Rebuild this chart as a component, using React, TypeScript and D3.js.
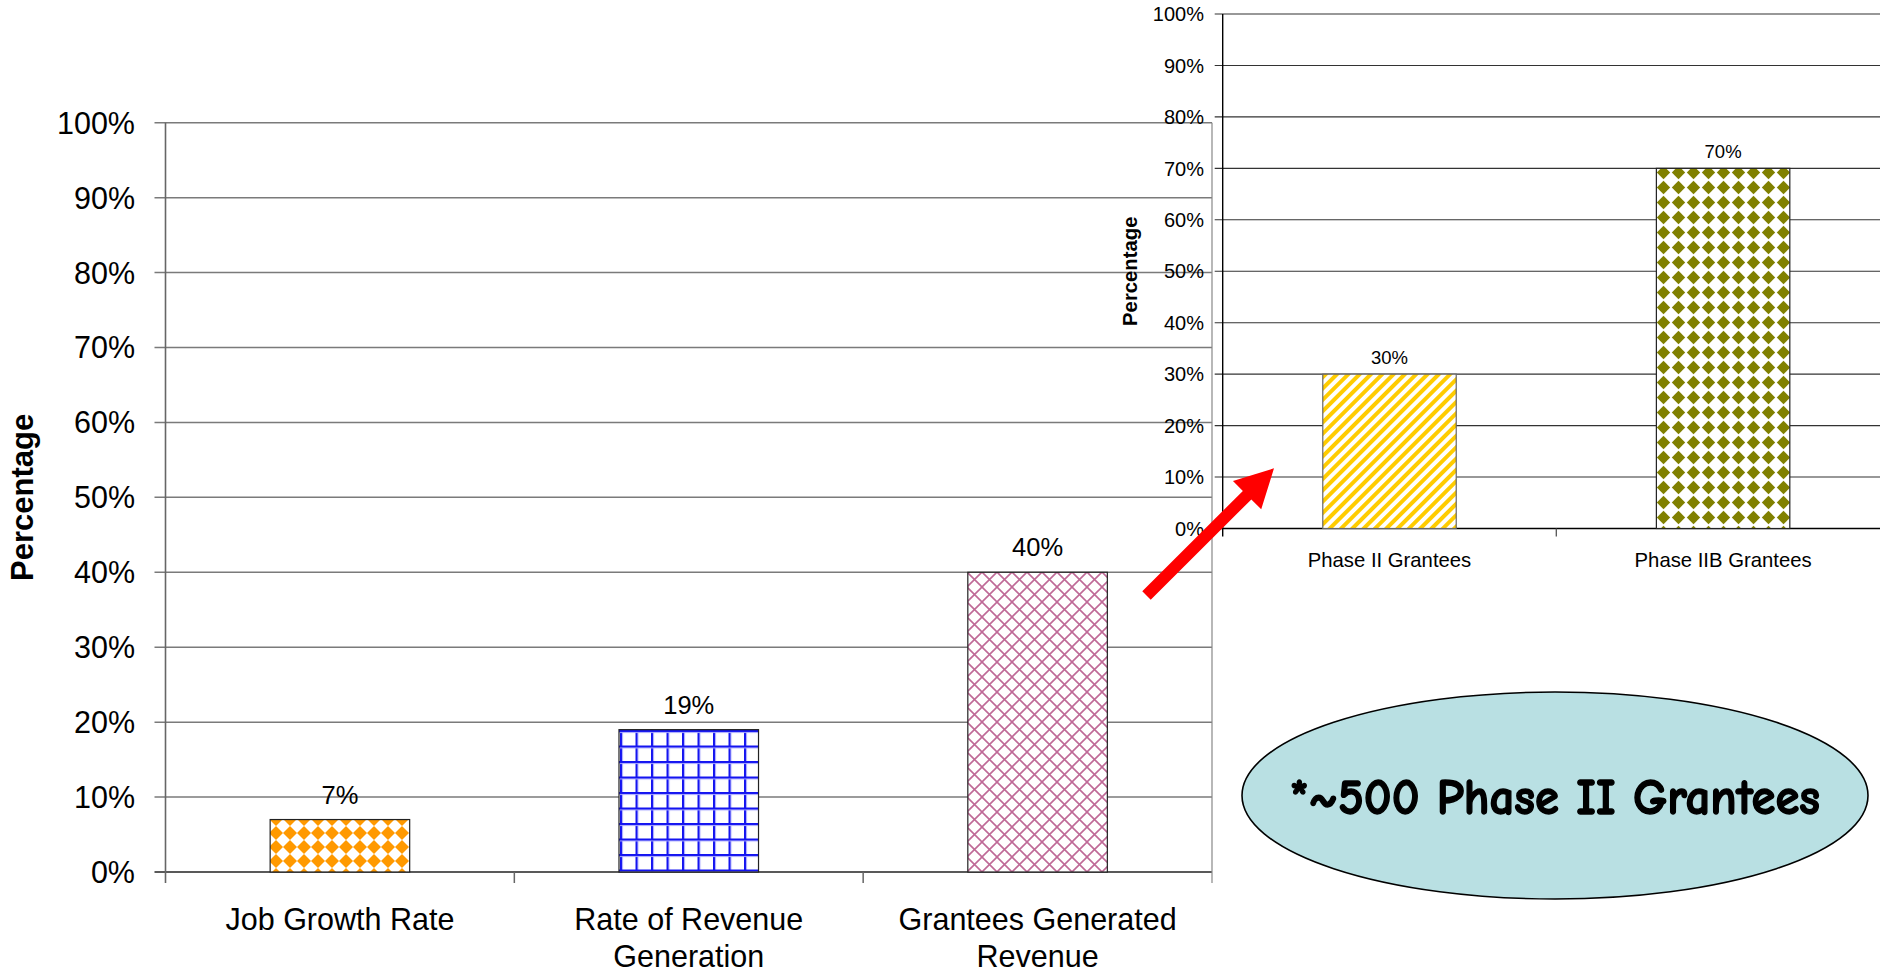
import React from "react";
import * as d3 from "d3";

// ---------- data ----------
const mainCategories: string[][] = [
  ["Job Growth Rate"],
  ["Rate of Revenue", "Generation"],
  ["Grantees Generated", "Revenue"],
];
const mainValues = [0.07, 0.19, 0.4];
const mainValueLabels = ["7%", "19%", "40%"];
const mainPatterns = ["pOrange", "pBlueGrid", "pPinkCross"];

const insetCategories = ["Phase II Grantees", "Phase IIB Grantees"];
const insetValues = [0.3, 0.7];
const insetValueLabels = ["30%", "70%"];
const insetPatterns = ["pYellowStripe", "pOliveDiamond"];

const yTickValues = [0, 0.1, 0.2, 0.3, 0.4, 0.5, 0.6, 0.7, 0.8, 0.9, 1.0];
const yAxisTitle = "Percentage";
const calloutText = "*~500 Phase II Grantees";

const FONT = "'Liberation Sans', Arial, Helvetica, sans-serif";
const pct = d3.format(".0%");

export default function App() {
  // main chart scales
  const mLeft = 165.5;
  const mRight = 1212;
  const mTop = 122.7;
  const mBottom = 872;
  const mx = d3
    .scaleBand<number>()
    .domain(mainValues.map((_, i) => i))
    .range([mLeft, mRight])
    .paddingInner(0.6)
    .paddingOuter(0.3);
  const my = d3.scaleLinear().domain([0, 1]).range([mBottom, mTop]);
  const mStep = mx.step();

  // inset scales
  const iLeft = 1222.7;
  const iStep = 333.6;
  const iTop = 14;
  const iBottom = 528.5;
  const ix = d3
    .scaleBand<number>()
    .domain(insetValues.map((_, i) => i))
    .range([iLeft, iLeft + iStep * insetValues.length])
    .paddingInner(0.6)
    .paddingOuter(0.3);
  const iy = d3.scaleLinear().domain([0, 1]).range([iBottom, iTop]);

  // arrow
  const T = [1146.5, 595.5];
  const P = [1274, 468.3];
  const dx = P[0] - T[0];
  const dy = P[1] - T[1];
  const len = Math.hypot(dx, dy);
  const u = [dx / len, dy / len];
  const n = [-u[1], u[0]];
  const headLen = 38;
  const headHalf = 20;
  const shaftHalf = 6;
  const B = [P[0] - u[0] * headLen, P[1] - u[1] * headLen];
  const pt = (base: number[], k: number) => `${base[0] + n[0] * k},${base[1] + n[1] * k}`;
  const arrowPts = [
    pt(T, shaftHalf),
    pt(B, shaftHalf),
    pt(B, headHalf),
    `${P[0]},${P[1]}`,
    pt(B, -headHalf),
    pt(B, -shaftHalf),
    pt(T, -shaftHalf),
  ].join(" ");

  return (
    <svg
      width={1880}
      height={975}
      style={{ position: "absolute", left: 0, top: 0, background: "#fff" }}
      fontFamily={FONT}
    >
      <defs>
        <pattern id="pOrange" width={14} height={14} patternUnits="userSpaceOnUse" x={269} y={0}>
          <rect width={14} height={14} fill="#fff" />
          <path d="M7 0 L14 7 L7 14 L0 7 Z" fill="#FF9900" />
        </pattern>
        <pattern id="pBlueGrid" width={15.5} height={15.5} patternUnits="userSpaceOnUse" x={620} y={730}>
          <rect width={15.5} height={15.5} fill="#fff" />
          <rect x={0} y={0} width={2} height={15.5} fill="#1414f0" />
          <rect x={2} y={0} width={1} height={15.5} fill="#a8a8ff" />
          <rect x={0} y={0} width={15.5} height={2} fill="#1414f0" />
          <rect x={0} y={2} width={15.5} height={1} fill="#a8a8ff" />
        </pattern>
        <pattern id="pPinkCross" width={15} height={15} patternUnits="userSpaceOnUse" x={967} y={572}>
          <rect width={15} height={15} fill="#fff" />
          <path d="M-1 -1 L16 16 M16 -1 L-1 16" stroke="#bf6a97" strokeWidth={1.6} />
        </pattern>
        <pattern
          id="pYellowStripe"
          width={8}
          height={8}
          patternUnits="userSpaceOnUse"
          patternTransform="rotate(45)"
        >
          <rect width={8} height={8} fill="#fff" />
          <rect x={0} y={0} width={4} height={8} fill="#FFCC00" />
        </pattern>
        <pattern id="pOliveDiamond" width={15} height={15} patternUnits="userSpaceOnUse" x={1656} y={0}>
          <rect width={15} height={15} fill="#fff" />
          <path d="M7.5 0.8 L14.2 7.5 L7.5 14.2 L0.8 7.5 Z" fill="#808000" />
        </pattern>
      </defs>

      {/* ================= MAIN CHART ================= */}
      <g>
        {yTickValues.map((t) => (
          <line
            key={"mg" + t}
            x1={mLeft - 11}
            x2={mRight}
            y1={my(t)}
            y2={my(t)}
            stroke={t === 0 ? "#222" : "#7a7a7a"}
            strokeWidth={1.5}
          />
        ))}
        <line x1={mLeft} x2={mLeft} y1={mTop} y2={mBottom + 11} stroke="#666" strokeWidth={1.6} />
        <line x1={mRight} x2={mRight} y1={mTop} y2={mBottom + 11} stroke="#888" strokeWidth={1.2} />
        {mainValues.map((_, i) =>
          i === 0 ? null : (
            <line
              key={"mt" + i}
              x1={mLeft + i * mStep}
              x2={mLeft + i * mStep}
              y1={mBottom}
              y2={mBottom + 11}
              stroke="#666"
              strokeWidth={1.5}
            />
          )
        )}
        {yTickValues.map((t) => (
          <text
            key={"ml" + t}
            x={135}
            y={my(t)}
            dy="0.36em"
            textAnchor="end"
            fontSize={30.5}
            fill="#000"
          >
            {pct(t)}
          </text>
        ))}
        {mainValues.map((v, i) => (
          <rect
            key={"mb" + i}
            x={mx(i)!}
            y={my(v)}
            width={mx.bandwidth()}
            height={my(0) - my(v)}
            fill={`url(#${mainPatterns[i]})`}
            stroke="#222"
            strokeWidth={1.2}
          />
        ))}
        {mainValues.map((v, i) => (
          <text
            key={"mv" + i}
            x={mx(i)! + mx.bandwidth() / 2}
            y={my(v) - 16}
            textAnchor="middle"
            fontSize={25.5}
            fill="#000"
          >
            {mainValueLabels[i]}
          </text>
        ))}
        {mainCategories.map((lines, i) => (
          <text
            key={"mc" + i}
            x={mx(i)! + mx.bandwidth() / 2}
            y={930}
            textAnchor="middle"
            fontSize={30.5}
            fill="#000"
          >
            {lines.map((ln, j) => (
              <tspan key={j} x={mx(i)! + mx.bandwidth() / 2} dy={j === 0 ? 0 : 37}>
                {ln}
              </tspan>
            ))}
          </text>
        ))}
        <text
          transform={`translate(22,${(mTop + mBottom) / 2}) rotate(-90)`}
          textAnchor="middle"
          dy="0.36em"
          fontSize={31}
          fontWeight="bold"
          fill="#000"
        >
          {yAxisTitle}
        </text>
      </g>

      {/* ================= INSET CHART ================= */}
      <g>
        {yTickValues.map((t) => (
          <line
            key={"ig" + t}
            x1={iLeft - 8}
            x2={1880}
            y1={iy(t)}
            y2={iy(t)}
            stroke={t === 0 ? "#000" : "#333"}
            strokeWidth={t === 0 ? 1.6 : 1.1}
          />
        ))}
        <line x1={iLeft} x2={iLeft} y1={iTop} y2={iBottom + 8} stroke="#000" strokeWidth={1.4} />
        {insetValues.map((_, i) =>
          i === 0 ? null : (
            <line
              key={"it" + i}
              x1={iLeft + i * iStep}
              x2={iLeft + i * iStep}
              y1={iBottom}
              y2={iBottom + 8}
              stroke="#555"
              strokeWidth={1.3}
            />
          )
        )}
        {yTickValues.map((t) => (
          <text
            key={"il" + t}
            x={1204}
            y={iy(t)}
            dy="0.36em"
            textAnchor="end"
            fontSize={20}
            fill="#000"
          >
            {pct(t)}
          </text>
        ))}
        {insetValues.map((v, i) => (
          <rect
            key={"ib" + i}
            x={ix(i)!}
            y={iy(v)}
            width={ix.bandwidth()}
            height={iy(0) - iy(v)}
            fill={`url(#${insetPatterns[i]})`}
            stroke={i === 0 ? "#666" : "#222"}
            strokeWidth={1.2}
          />
        ))}
        {insetValues.map((v, i) => (
          <text
            key={"iv" + i}
            x={ix(i)! + ix.bandwidth() / 2}
            y={iy(v) - 10}
            textAnchor="middle"
            fontSize={18.5}
            fill="#000"
          >
            {insetValueLabels[i]}
          </text>
        ))}
        {insetCategories.map((c, i) => (
          <text
            key={"ic" + i}
            x={ix(i)! + ix.bandwidth() / 2}
            y={567}
            textAnchor="middle"
            fontSize={20.3}
            fill="#000"
          >
            {c}
          </text>
        ))}
        <text
          transform={`translate(1130,${(iTop + iBottom) / 2}) rotate(-90)`}
          textAnchor="middle"
          dy="0.36em"
          fontSize={20.3}
          fontWeight="bold"
          fill="#000"
        >
          {yAxisTitle}
        </text>
      </g>

      {/* ================= ARROW ================= */}
      <polygon points={arrowPts} fill="#FF0000" />

      {/* ================= CALLOUT ================= */}
      <ellipse cx={1555} cy={795.5} rx={313} ry={103.5} fill="#B9E0E3" stroke="#000" strokeWidth={1.6} />
      <text
        x={1555}
        y={814}
        textAnchor="middle"
        fontSize={50}
        fontWeight="bold"
        fontFamily="'Comic Sans MS', 'Comic Neue', Lato, 'DejaVu Sans', sans-serif"
        textLength={530}
        lengthAdjust="spacingAndGlyphs"
        fill="#000"
        stroke="#000"
        strokeWidth={1.4}
      >
        {calloutText}
      </text>
    </svg>
  );
}
